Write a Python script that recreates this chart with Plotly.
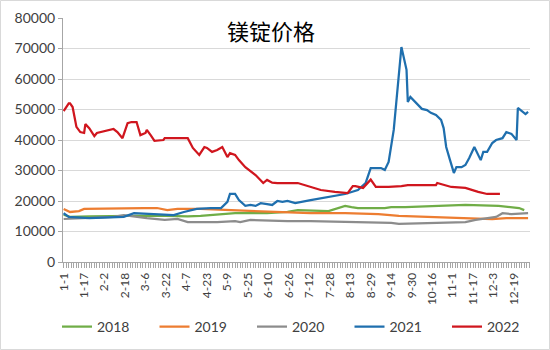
import pandas as pd
import plotly.graph_objects as go

# All calendar days used as categories (m-d)
DAYS = [f"{d.month}-{d.day}" for d in pd.date_range("2021-01-01", "2021-12-31")]
TICK_LABELS = ["1-1", "1-17", "2-2", "2-18", "3-6", "3-22", "4-7", "4-23", "5-9", "5-25",
               "6-10", "6-26", "7-12", "7-28", "8-13", "8-29", "9-14", "9-30", "10-16",
               "11-1", "11-17", "12-3", "12-19"]
Y_TICKS = [0, 10000, 20000, 30000, 40000, 50000, 60000, 70000, 80000]

d2018 = ["1-1", "1-6", "1-21", "2-9", "3-13", "4-8", "4-18", "5-15", "6-9", "6-25", "7-3",
         "7-27", "8-3", "8-9", "8-14", "8-19", "9-9", "9-14", "9-25", "10-16", "11-11",
         "12-7", "12-17", "12-23", "12-27"]
v2018 = [15500, 14800, 15000, 15100, 15200, 15000, 15100, 16000, 16000, 16400, 17000,
         16700, 17700, 18400, 18000, 17700, 17700, 18000, 18000, 18400, 18700,
         18400, 18000, 17700, 17000]

d2019 = ["1-1", "1-6", "1-13", "1-17", "3-5", "3-15", "3-23", "3-31", "4-18", "5-15",
         "6-9", "6-17", "6-25", "7-13", "8-9", "9-4", "9-20", "10-11", "11-11", "12-2",
         "12-13", "12-30"]
v2019 = [17400, 16400, 16700, 17400, 17700, 17700, 17000, 17400, 17400, 17000,
         16400, 16400, 16200, 16000, 16000, 15700, 15100, 14800, 14400, 14100,
         14400, 14400]

d2020 = ["1-1", "2-9", "2-17", "2-22", "3-7", "3-21", "3-31", "4-8", "5-1", "5-15", "5-19",
         "5-27", "6-25", "7-13", "8-22", "9-14", "9-20", "10-16", "11-11", "11-19", "11-27",
         "12-5", "12-10", "12-17", "12-30"]
v2020 = [14100, 14800, 15400, 15100, 14400, 13800, 14100, 13100, 13100, 13400, 13100,
         13800, 13400, 13400, 13100, 12800, 12500, 12800, 13100, 13800, 14400,
         14800, 16000, 15700, 16000]

d2021 = ["1-1", "1-5", "1-21", "2-17", "2-25", "3-13", "3-28", "4-5", "4-15", "4-26", "5-4",
         "5-9", "5-11", "5-15", "5-18", "5-23", "5-27", "5-31", "6-4", "6-9", "6-13", "6-17",
         "6-21", "6-25", "7-1", "7-13", "7-27", "8-9", "8-19", "8-25", "8-29", "9-6", "9-9",
         "9-12", "9-16", "9-22", "9-26", "9-27", "9-29", "10-3", "10-8", "10-12", "10-15",
         "10-19", "10-23", "10-25", "10-27", "10-30", "11-2", "11-4", "11-8", "11-11",
         "11-14", "11-18", "11-20", "11-23", "11-25", "11-28", "12-2", "12-5", "12-10",
         "12-13", "12-17", "12-21", "12-22", "12-24", "12-28", "12-30"]
v2021 = [16000, 14800, 14400, 14800, 16000, 15700, 15400, 16400, 17400, 17700, 17700,
         19700, 22300, 22300, 20300, 18400, 18700, 18400, 19300, 19000, 18700, 20000,
         19700, 20000, 19300, 20300, 21300, 22300, 23600, 25900, 30800, 30800, 30200,
         32800, 43300, 70500, 63000, 52500, 54100, 52500, 50200, 49800, 48900,
         48200, 46600, 43900, 37700, 33400, 29200, 31100, 31100, 31800,
         34100, 37700, 36100, 33400, 36100, 36100, 39000, 40000, 40600,
         42600, 42000, 40000, 50500, 49800, 48500, 49200]

d2022 = ["1-1", "1-5", "1-6", "1-8", "1-11", "1-14", "1-17", "1-18", "1-21", "1-25", "1-27",
         "2-9", "2-12", "2-16", "2-20", "2-23", "2-27", "3-2", "3-6", "3-7", "3-10", "3-13",
         "3-20", "3-21", "4-8", "4-12", "4-17", "4-21", "4-23", "4-27", "5-1", "5-5", "5-9",
         "5-11", "5-15", "5-18", "5-23", "5-26", "5-31", "6-6", "6-9", "6-13", "6-17", "7-3",
         "7-13", "7-21", "8-1", "8-11", "8-15", "8-17", "8-23", "8-29", "9-2", "9-12", "9-22",
         "9-27", "10-19", "10-20", "10-31", "11-11", "11-21", "11-28", "12-8"]
v2022 = [49500, 52000, 52000, 50800, 44300, 42600, 42300, 45200, 43900, 41300, 42300,
         43600, 42600, 40600, 45500, 45900, 45900, 41600, 42300, 43300, 41600, 39700,
         40000, 40600, 40600, 37400, 35100, 37700, 37400, 36100, 36700, 37700, 34400,
         35700, 35100, 33400, 31100, 30200, 28500, 25900, 26900, 26000, 25900, 25900,
         24600, 23600, 23000, 22600, 24900, 24900, 24300, 27000, 24600, 24600, 24900,
         25200, 25200, 25900, 24600, 24300, 23000, 22300, 22300]

series = [
    ("2018", d2018, v2018, "#70AD47"),
    ("2019", d2019, v2019, "#ED7D31"),
    ("2020", d2020, v2020, "#8C8C8C"),
    ("2021", d2021, v2021, "#1F6FAE"),
    ("2022", d2022, v2022, "#D0161E"),
]

fig = go.Figure()
legend_layout = {}
for i, (name, dates, vals, color) in enumerate(series):
    lg = "legend" if i == 0 else f"legend{i + 1}"
    fig.add_trace(go.Scatter(
        x=[DAYS.index(d) for d in dates], y=vals, name=name, mode="lines",
        line=dict(color=color, width=2.25), legend=lg,
    ))
    legend_layout[lg] = dict(
        orientation="h", xref="container", yref="container",
        x=(57 + 97.5 * i) / 550, xanchor="left", y=23 / 350, yanchor="middle",
        font=dict(size=14, color="#404040"), itemwidth=30, bgcolor="rgba(0,0,0,0)")

fig.update_layout(
    width=550, height=350,
    margin=dict(l=63, r=20, t=18, b=88, autoexpand=False),
    paper_bgcolor="white", plot_bgcolor="white",
    font=dict(family="Lato, sans-serif", color="#595959"),
    showlegend=True,
    annotations=[dict(text="镁锭价格", x=0.445, y=0.951, xref="paper", yref="paper",
                      showarrow=False, xanchor="center", yanchor="middle",
                      font=dict(family="Noto Sans CJK SC", size=22, color="#000000"))],
    shapes=[dict(type="rect", xref="paper", yref="paper",
                 x0=-62.5 / 467, x1=1 + 19.5 / 467, y0=-87.5 / 244, y1=1 + 17.5 / 244,
                 line=dict(color="#D9D9D9", width=1))],
    **legend_layout,
)

fig.update_xaxes(
    range=[-0.5, len(DAYS) - 0.5],
    tickmode="array",
    tickvals=[DAYS.index(t) for t in TICK_LABELS],
    ticktext=TICK_LABELS,
    tickangle=-90,
    tickfont=dict(size=12, color="#404040"),
    ticks="outside", ticklen=5, tickcolor="#A6A6A6",
    minor=dict(dtick=2, tick0=0, ticks="outside", ticklen=5, tickcolor="#A6A6A6", showgrid=False),
    showgrid=False, showline=True, linecolor="#A6A6A6", linewidth=1, zeroline=False,
)
fig.update_yaxes(
    range=[0, 80000], tickvals=Y_TICKS, ticktext=[str(v) for v in Y_TICKS],
    tickfont=dict(size=14, color="#404040"),
    ticks="outside", ticklen=4, tickcolor="#A6A6A6",
    showgrid=True, gridcolor="#D9D9D9", gridwidth=1,
    showline=True, linecolor="#A6A6A6", linewidth=1, zeroline=False,
)

fig.write_html("out.html")
